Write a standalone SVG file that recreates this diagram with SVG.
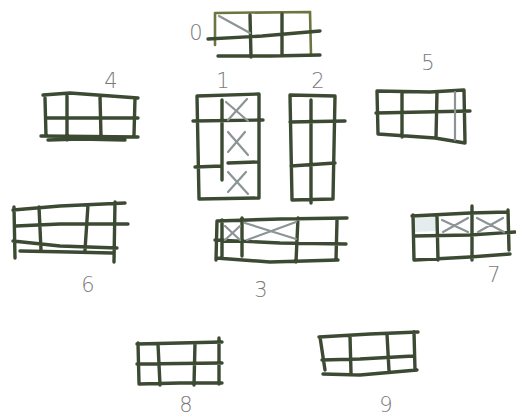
<svg xmlns="http://www.w3.org/2000/svg" width="516" height="418" viewBox="0 0 516 418">
<style>
.s{fill:none;stroke:#3c4a33;stroke-width:3.4;stroke-linecap:round;stroke-linejoin:round}
.o{fill:none;stroke:#6e7440;stroke-width:2.6;stroke-linecap:round}
.x{fill:none;stroke:#8c9496;stroke-width:2.2;stroke-linecap:round}
.t{font-family:"DejaVu Sans",sans-serif;font-size:21px;fill:#7a7a7a;font-weight:200;text-anchor:middle}
.tint{fill:#e4ecee}
</style>
<rect width="516" height="418" fill="#fff"/>
<g id="node0">
<path class="o" d="M215 13 L310 12 L311 55 M215 13 L215 45"/>
<path class="s" d="M208 39 L262 36 L320 31 M218 56 L270 56 L320 55 M250 15 L251 57 M282 14 L282 54"/>
<path class="x" d="M219 16 L250 33"/>
<text class="t" x="196" y="40">0</text>
</g>
<g id="node1">
<path class="s" d="M197 96 L259 94 L259 198 L199 199 Z M222 100 L222 180 M193 121 L263 120 M195 167 L222 166 M228 163 L258 162"/>
<path class="x" d="M226 102 L248 121 M247 99 L228 120 M228 132 L248 155 M245 132 L228 152 M228 172 L248 194 M246 172 L228 192"/>
<text class="t" x="223" y="88">1</text>
</g>
<g id="node2">
<path class="s" d="M290 95 L335 96 L333 199 L292 200 Z M311 100 L311 203 M290 122 L345 121 M291 166 L335 163"/>
<text class="t" x="318" y="88">2</text>
</g>
<g id="node4">
<path class="s" d="M43 95 L70 93 L138 98 M45 98 L46 136 M67 96 L67 140 M100 96 L101 137 M135 98 L134 135 M46 118 L138 118 M41 136 L138 137 M48 140 L80 139 L125 140"/>
<text class="t" x="111" y="88">4</text>
</g>
<g id="node5">
<path class="s" d="M377 91 L430 92 L464 90 L465 143 L435 138 L378 134 Z M402 92 L402 137 M437 92 L436 138 M376 113 L470 111"/>
<path class="x" d="M455 92 L455 140"/>
<text class="t" x="428" y="70">5</text>
</g>
<g id="node6">
<path class="s" d="M13 210 L60 206 L125 203 M14 207 L15 258 M39 207 L41 250 M88 205 L85 250 M115 202 L114 262 M16 226 L60 224 L128 224 M13 241 L60 246 L117 248 M20 251 L70 252 L112 253"/>
<text class="t" x="88" y="292">6</text>
</g>
<g id="node3">
<path class="s" d="M217 221 L280 219 L347 218 M217 221 L216 260 M222 220 L222 258 M242 218 L242 256 M298 218 L296 262 M337 220 L336 260 M215 240 L280 243 L346 244 M216 258 L270 262 L338 260"/>
<path class="x" d="M225 226 L240 240 M240 226 L225 240 M245 223 L296 239 M296 222 L247 240"/>
<text class="t" x="261" y="297">3</text>
</g>
<g id="node7">
<path class="tint" d="M414 218 L437 216 L437 231 L414 232 Z"/>
<path class="s" d="M412 216 L470 213 L508 212 M413 215 L414 260 M437 216 L438 260 M472 206 L472 260 M508 210 L509 250 M414 236 L470 235 L515 232 M415 260 L470 257 L510 254"/>
<path class="x" d="M442 220 L468 232 M468 218 L443 232 M477 218 L504 232 M503 218 L478 232"/>
<text class="t" x="494" y="282">7</text>
</g>
<g id="node8">
<path class="s" d="M137 344 L180 343 L222 342 M138 343 L139 383 M158 344 L160 385 M195 343 L194 385 M219 338 L219 384 M137 364 L222 363 M139 384 L180 383 L222 383"/>
<text class="t" x="186" y="412">8</text>
</g>
<g id="node9">
<path class="s" d="M319 337 L370 334 L418 332 M320 337 L325 370 M350 336 L351 373 M387 334 L389 371 M414 332 L415 370 M322 360 L360 359 L413 356 M323 374 L360 375 L417 370"/>
<text class="t" x="386" y="412">9</text>
</g>
<g id="connectors"></g>
</svg>
